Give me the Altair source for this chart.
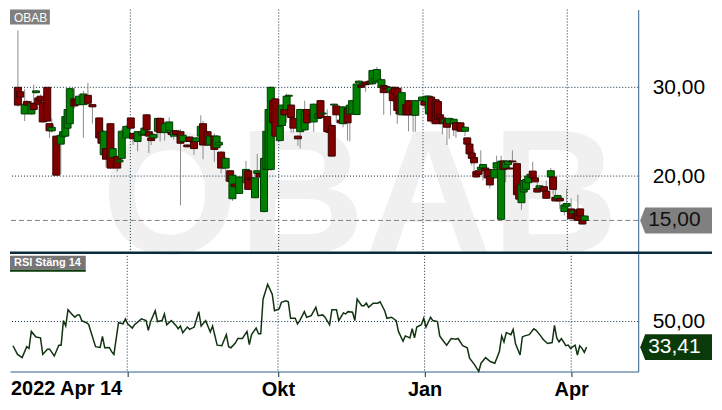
import altair as alt
import pandas as pd

ticker = "OBAB"
rsi_title = "RSI Stäng 14"
first_date_label = "2022 Apr 14"

# daily candles: trading-day number (0 = 2022-04-14), open, high, low, close
cd_day = [0, 1, 3, 4, 6, 7, 8, 9, 10, 11,
          13, 14, 15, 17, 19, 20, 21, 22, 23, 25,
          26, 27, 29, 31, 33, 36, 37, 38, 39, 41,
          42, 44, 45, 46, 48, 50, 51, 53, 55, 56,
          57, 58, 59, 60, 62, 63, 65, 67, 68, 69,
          70, 72, 73, 75, 76, 78, 79, 81, 82, 84,
          85, 87, 88, 89, 90, 92, 94, 95, 96, 98,
          101, 102, 103, 105, 106, 107, 109, 110, 111, 112,
          113, 114, 116, 117, 118, 119, 120, 121, 122, 124,
          125, 127, 128, 130, 131, 133, 134, 135, 137, 138,
          139, 140, 141, 143, 144, 146, 147, 148, 150, 151,
          152, 153, 154, 156, 157, 158, 159, 161, 162, 163,
          165, 166, 167, 168, 169, 170, 172, 173, 175, 176,
          179, 180, 181, 182, 183, 185, 186, 187, 188, 189,
          190, 191, 193, 194, 196, 198, 199, 200, 201, 202,
          203, 204, 205, 206, 207, 208, 209, 211, 212, 214,
          215, 216, 217, 218, 219, 221, 222, 223, 224, 225,
          226, 227, 228, 229, 230, 231, 233, 234, 236, 237,
          238, 239, 240, 242, 243, 245, 246, 247, 248, 249,
          250, 251]
cd_open = [30.0, 29.5, 27.0, 28.4, 27.0, 28.2, 29.4, 28.8, 29.0, 28.3,
           30.0, 25.9, 25.1, 24.5, 23.6, 24.5, 24.5, 25.4, 25.9, 28.7,
           28.6, 28.05, 28.05, 29.1, 28.05, 26.55, 24.9, 22.4, 23.1, 25.9,
           22.1, 22.2, 21.6, 22.0, 24.3, 26.55, 24.8, 23.9, 24.6, 24.7,
           26.9, 25.0, 24.3, 24.3, 25.05, 26.5, 24.9, 25.1, 24.9, 24.5,
           25.1, 25.0, 23.9, 23.5, 24.4, 23.9, 23.9, 24.5, 25.9, 25.0,
           23.5, 24.5, 23.2, 23.5, 22.7, 20.9, 20.6, 17.45, 19.1, 18.05,
           19.25, 20.6, 19.8, 17.56, 20.3, 20.3, 16.0, 20.75, 20.75, 20.75,
           28.5, 28.7, 24.0, 25.7, 27.5, 27.5, 29.0, 28.0, 26.5, 24.5,
           25.0, 25.2, 27.5, 26.9, 26.1, 26.5, 28.5, 27.0, 26.7, 25.1,
           25.7, 28.0, 27.9, 26.3, 25.9, 27.6, 27.0, 27.0, 26.93, 30.5,
           30.2, 30.3, 30.6, 30.7, 30.4, 30.6, 30.7, 30.0, 30.2, 30.1,
           29.4, 29.7, 30.0, 29.9, 29.0, 26.9, 28.05, 28.5, 27.9, 26.85,
           28.5, 28.4, 28.4, 27.0, 28.9, 28.6, 28.4, 26.9, 26.55, 26.0,
           26.25, 25.9, 25.9, 26.0, 26.0, 25.05, 24.3, 23.6, 22.6, 22.1,
           20.5, 20.6, 20.75, 20.9, 20.9, 20.75, 20.0, 19.8, 20.9, 15.13,
           21.7, 20.9, 21.3, 20.9, 21.7, 21.4, 18.9, 17.0, 18.2, 18.5,
           19.25, 19.9, 20.56, 19.8, 18.6, 18.6, 18.8, 18.3, 19.9, 19.9,
           17.6, 17.4, 17.5, 16.0, 16.6, 16.3, 15.8, 15.6, 16.2, 16.3,
           15.0, 15.0]
cd_high = [36.4, 29.7, 29.8, 28.6, 28.5, 30.3, 29.7, 29.0, 29.2, 28.5,
           30.0, 26.0, 26.5, 24.6, 24.8, 25.2, 26.8, 27.7, 30.1, 30.0,
           28.8, 29.2, 29.6, 30.5, 28.1, 26.6, 25.0, 25.2, 23.3, 26.0,
           23.3, 22.3, 21.9, 25.3, 25.8, 26.6, 24.9, 25.1, 25.1, 25.5,
           27.0, 25.1, 24.4, 24.8, 26.6, 26.6, 26.2, 26.6, 25.0, 25.2,
           25.2, 25.3, 24.7, 23.6, 24.5, 24.0, 24.4, 26.85, 26.2, 25.1,
           24.6, 24.8, 24.6, 23.9, 22.8, 22.1, 20.7, 20.5, 19.2, 20.0,
           21.7, 20.7, 19.9, 20.3, 22.5, 20.4, 22.2, 25.2, 27.6, 30.1,
           28.6, 28.8, 25.7, 28.1, 28.6, 29.3, 29.2, 28.1, 26.6, 24.6,
           27.6, 28.5, 27.6, 27.0, 28.2, 27.1, 28.6, 27.2, 27.5, 25.2,
           25.9, 28.2, 28.0, 26.4, 27.9, 27.7, 28.1, 28.6, 30.6, 30.8,
           30.3, 30.6, 30.7, 30.8, 32.0, 31.1, 32.3, 31.0, 30.3, 30.2,
           30.1, 29.8, 30.1, 30.0, 29.1, 30.0, 28.1, 28.6, 28.0, 28.6,
           29.0, 28.5, 29.1, 29.1, 29.0, 28.7, 28.5, 27.0, 26.6, 26.5,
           26.3, 26.6, 26.5, 26.1, 26.1, 25.6, 24.4, 24.0, 22.7, 23.0,
           20.6, 20.7, 22.9, 21.4, 21.0, 20.8, 20.1, 21.0, 22.3, 22.3,
           21.8, 21.7, 21.8, 21.0, 22.9, 21.6, 19.0, 19.1, 19.6, 19.7,
           20.1, 20.3, 21.6, 19.9, 19.3, 19.0, 18.9, 19.5, 20.9, 20.0,
           18.9, 17.9, 17.6, 17.0, 18.6, 17.5, 16.2, 15.7, 17.9, 16.4,
           15.1, 15.6]
cd_low = [27.8, 28.7, 26.2, 27.8, 26.9, 27.4, 29.3, 28.0, 28.4, 26.0,
          26.1, 24.3, 24.9, 20.1, 20.2, 24.4, 24.3, 25.2, 25.5, 27.6,
          27.9, 27.9, 24.3, 28.0, 25.9, 24.0, 23.5, 22.2, 21.0, 20.8,
          22.0, 20.5, 21.5, 21.8, 24.2, 25.2, 23.5, 22.8, 24.5, 24.6,
          25.0, 22.6, 23.5, 24.2, 24.3, 23.9, 24.0, 24.7, 24.3, 24.1,
          24.6, 16.7, 23.8, 23.2, 23.8, 22.4, 23.8, 24.0, 21.9, 23.4,
          23.4, 21.6, 23.1, 23.4, 20.3, 19.4, 18.4, 17.2, 18.7, 18.0,
          19.2, 18.4, 19.5, 17.5, 20.2, 19.8, 15.9, 20.6, 20.6, 20.6,
          23.1, 24.4, 23.9, 25.6, 26.8, 26.0, 28.9, 24.9, 24.9, 23.4,
          23.1, 25.1, 25.9, 26.7, 25.0, 26.4, 26.5, 26.9, 24.9, 24.8,
          22.2, 27.9, 26.0, 25.9, 25.5, 24.0, 23.9, 26.9, 26.9, 30.4,
          29.9, 30.2, 29.5, 30.3, 30.3, 30.5, 30.6, 29.9, 26.9, 29.7,
          26.85, 28.4, 29.1, 25.9, 26.9, 26.8, 26.8, 25.05, 25.0, 25.0,
          28.4, 27.6, 28.3, 26.9, 25.9, 25.8, 26.3, 25.8, 24.7, 25.9,
          23.5, 24.2, 24.5, 24.3, 25.0, 24.5, 23.5, 22.4, 21.2, 20.6,
          19.8, 20.1, 20.7, 19.5, 20.5, 19.2, 18.6, 19.7, 20.8, 15.1,
          18.7, 19.3, 21.2, 20.7, 21.5, 17.6, 17.3, 16.2, 18.1, 18.4,
          19.2, 19.8, 19.7, 19.3, 18.1, 18.5, 17.6, 17.4, 19.8, 17.9,
          17.1, 17.3, 16.3, 15.6, 16.5, 15.1, 15.1, 15.1, 15.0, 15.4,
          14.5, 14.9]
cd_close = [28.0, 28.9, 28.1, 28.0, 28.2, 27.5, 29.6, 28.1, 28.5, 26.1,
            26.2, 25.1, 25.5, 20.1, 24.6, 25.0, 26.7, 27.5, 29.85, 27.9,
            28.1, 29.0, 29.25, 28.2, 27.8, 24.3, 23.7, 25.05, 21.9, 20.9,
            23.1, 20.9, 21.8, 25.05, 25.6, 25.4, 24.2, 25.0, 25.0, 25.4,
            25.2, 24.5, 24.0, 24.7, 26.5, 24.9, 25.9, 26.1, 24.7, 25.1,
            24.7, 23.7, 24.6, 23.3, 23.9, 23.1, 24.3, 25.6, 23.5, 23.5,
            24.5, 23.0, 24.5, 23.8, 20.9, 22.0, 19.4, 20.1, 18.8, 19.9,
            20.75, 18.5, 19.6, 19.8, 20.6, 19.9, 22.0, 25.05, 27.5, 30.0,
            26.0, 24.5, 25.6, 28.0, 26.9, 29.0, 29.1, 26.6, 25.4, 24.2,
            27.5, 27.3, 26.0, 26.8, 28.1, 27.0, 26.6, 27.1, 25.0, 24.9,
            22.25, 28.1, 26.9, 26.0, 27.8, 26.0, 28.0, 28.5, 30.37, 30.7,
            30.0, 30.5, 30.3, 30.4, 31.9, 31.0, 32.0, 30.86, 29.4, 29.85,
            30.0, 28.5, 29.2, 27.4, 27.0, 29.4, 26.9, 26.9, 26.9, 28.5,
            28.9, 28.0, 29.0, 29.0, 26.2, 25.9, 26.4, 26.6, 25.9, 26.4,
            25.5, 26.5, 26.4, 25.2, 25.05, 25.5, 23.6, 22.5, 22.0, 21.5,
            19.9, 20.2, 21.0, 21.3, 20.6, 19.8, 19.0, 20.75, 21.5, 21.68,
            20.75, 21.6, 21.7, 20.8, 21.6, 17.9, 17.4, 19.06, 19.5, 19.6,
            20.0, 20.2, 19.8, 19.35, 18.2, 18.9, 18.3, 17.5, 20.6, 18.5,
            17.2, 17.8, 17.2, 16.74, 16.9, 15.2, 16.1, 15.2, 15.0, 15.5,
            14.6, 15.5]

# RSI (close, 14)
rsi_day = [0, 2, 4, 6, 7, 8, 10, 12, 13, 15,
           16, 18, 20, 21, 22, 23, 24, 26, 27, 28,
           29, 30, 32, 33, 34, 36, 38, 39, 40, 42,
           43, 44, 46, 48, 49, 50, 52, 53, 56, 58,
           59, 60, 62, 63, 65, 66, 67, 69, 71, 72,
           73, 74, 76, 77, 79, 81, 82, 84, 86, 87,
           89, 91, 93, 94, 95, 97, 98, 100, 102, 103,
           104, 106, 107, 108, 109, 111, 113, 114, 116, 117,
           119, 120, 121, 123, 124, 125, 127, 128, 130, 132,
           133, 135,
           136, 138, 139, 141, 142, 144, 145, 146, 148, 149,
           150, 152, 153, 154, 155, 157, 159, 160, 162, 163,
           165, 167, 168, 170, 171, 173, 174, 175, 176, 178,
           179, 180, 182, 183, 185, 186, 187, 189, 191, 193,
           194, 196, 198, 199, 201, 203, 204, 206, 208, 210,
           212, 213, 214, 215, 217, 218, 219, 221, 222, 223,
           225, 227, 228, 230, 231, 233, 235, 236, 237, 238,
           239, 241, 242, 243, 245, 246, 247, 248, 249, 250]
rsi_val = [34.3, 28.7, 26.6, 33.7, 32.6, 43.6, 40.0, 39.4, 28.7, 32.1,
           32.1, 27.7, 34.7, 34.7, 50.6, 47.1, 57.7, 54.3, 52.8, 54.3,
           54.3, 50.6, 49.2, 48.1, 43.2, 33.7, 33.2, 40.4, 33.0, 33.2,
           30.5, 28.7, 49.2, 48.5, 51.7, 48.5, 45.8, 47.9, 51.7, 50.6,
           44.3, 50.0, 57.0, 50.0, 50.6, 54.9, 47.9, 50.6, 47.5, 45.3,
           47.1, 42.8, 46.4, 44.9, 46.4, 56.4, 47.1, 50.6, 43.2, 47.1,
           34.7, 34.3, 41.5, 33.7, 33.0, 36.2, 39.0, 39.0, 43.6, 35.1,
           41.5, 45.8, 42.1, 42.1, 64.5, 74.1, 67.7, 57.0, 58.1, 62.4,
           63.4, 62.8, 52.1, 52.1, 48.5, 50.6, 56.4, 52.8, 53.8, 59.2,
           53.8, 54.3,
           52.8, 47.9, 57.7, 57.7, 50.6, 55.6, 54.9, 56.4, 56.0, 50.6,
           64.5, 60.2, 60.2, 61.9, 59.2, 61.9, 61.9, 62.8, 57.0, 52.1,
           52.8, 50.6, 43.6, 37.2, 40.7, 39.4, 45.3, 39.4, 46.4, 47.9,
           52.1, 46.4, 52.8, 50.6, 50.0, 40.7, 38.5, 34.7, 39.0, 38.5,
           39.0, 34.3, 33.0, 26.2, 22.4, 17.7, 23.0, 26.6, 24.1, 23.0,
           30.5, 40.7, 36.8, 42.8, 41.5, 44.9, 35.8, 28.3, 40.0, 40.7,
           41.5, 45.3, 44.3, 40.7, 38.5, 35.8, 36.4, 47.5, 39.4, 36.8,
           39.0, 34.3, 34.7, 32.6, 34.7, 28.3, 34.3, 32.6, 30.0, 33.41]

# month boundaries (trading-day number) and their labels
month_pos = [49.8, 115.5, 179.4, 243.3]
month_shown = ["", "Okt", "Jan", "Apr"]
price_ticks = [20, 30]
rsi_ticks = [50]
last_price = [15.00]
last_rsi = [33.41]

W = 630
H_MAIN = 244
H_RSI = 119
LABEL_PAD = 3
FONT = "Liberation Sans"
GRID = "#0d2b3e"
BORDER = "#2f5d8c"
UP_FILL, UP_LINE = "#008000", "#003a00"
DN_FILL, DN_LINE = "#800000", "#3a0000"
ARROW = "M-1,0L-0.861,-0.361L1,-0.361L1,0.361L-0.861,0.361Z"


def comma(v):
    return f"{v:.2f}".replace(".", ",")


candles = pd.DataFrame({"day": cd_day, "open": cd_open, "high": cd_high,
                        "low": cd_low, "close": cd_close})
rsi = pd.DataFrame({"day": rsi_day, "rsi": rsi_val})

x_scale = alt.Scale(domain=[-1.29, 272.5], nice=False, zero=False)
p_scale = alt.Scale(domain=[11.348, 38.764], nice=False, zero=False)
r_scale = alt.Scale(domain=[17.6, 94.5], nice=False, zero=False)

val_expr = "replace(format(datum.value, '.2f'), '.', ',')"
month_expr = "''"
for p, n in reversed(list(zip(month_pos, month_shown))):
    month_expr = f"datum.value === {p} ? '{n}' : ({month_expr})"

p_axis = alt.Axis(orient="right", values=price_ticks, labelExpr=val_expr,
                  grid=False, ticks=False, labelPadding=14, labelFont=FONT,
                  labelFontSize=21, labelColor="#000000", domainColor=BORDER,
                  domainWidth=1, title=None)
r_axis = alt.Axis(orient="right", values=rsi_ticks, labelExpr=val_expr,
                  grid=False, ticks=False, labelPadding=14, labelFont=FONT,
                  labelFontSize=21, labelColor="#000000", domainColor=BORDER,
                  domainWidth=1, title=None)
x_axis = alt.Axis(values=month_pos, labelExpr=month_expr, grid=False,
                  tickSize=5, tickColor=GRID, domainColor=BORDER,
                  labelFont=FONT, labelFontSize=20, labelFontWeight="bold",
                  labelColor="#000000", labelPadding=LABEL_PAD,
                  labelOverlap=False, labelFlush=False, title=None)

one = pd.DataFrame({"t": [ticker]})

# ---------- price panel ----------
wm = alt.Chart(one).mark_text(font=FONT, fontSize=176, fontWeight="bold",
                              color="#f0f0f0", align="left",
                              baseline="alphabetic").encode(
    x=alt.value(92), y=alt.value(H_MAIN), text="t:N")
hgrid = alt.Chart(pd.DataFrame({"v": price_ticks})).mark_rule(
    color=GRID, strokeDash=[1, 2], strokeWidth=1).encode(
    y=alt.Y("v:Q", scale=p_scale, axis=p_axis))
vgrid = alt.Chart(pd.DataFrame({"d": month_pos})).mark_rule(
    color=GRID, strokeDash=[1, 2], strokeWidth=1).encode(
    x=alt.X("d:Q", scale=x_scale, axis=None))
lastline = alt.Chart(pd.DataFrame({"v": last_price})).mark_rule(
    color="#808080", strokeDash=[5, 3], strokeWidth=1).encode(
    y=alt.Y("v:Q", scale=p_scale, axis=p_axis))
wicks = alt.Chart(candles).mark_rule(color="#8c8c8c", strokeWidth=1).encode(
    x=alt.X("day:Q", scale=x_scale, axis=None),
    y=alt.Y("low:Q", scale=p_scale, axis=p_axis), y2="high:Q")
up = "datum.close >= datum.open"
bodies = alt.Chart(candles).mark_bar(width=7, strokeWidth=1).encode(
    x=alt.X("day:Q", scale=x_scale, axis=None),
    y=alt.Y("open:Q", scale=p_scale, axis=p_axis), y2="close:Q",
    fill=alt.condition(up, alt.value(UP_FILL), alt.value(DN_FILL)),
    stroke=alt.condition(up, alt.value(UP_LINE), alt.value(DN_LINE)))
thick = alt.Chart(one).mark_rule(color="#0c2a3d", strokeWidth=2.5).encode(
    x=alt.value(0), x2=alt.value(704), y=alt.value(H_MAIN))
lp = pd.DataFrame({"v": last_price, "t": [comma(v) for v in last_price]})
pbox = alt.Chart(lp).mark_point(shape=ARROW, size=5184, filled=True,
                                opacity=1, strokeWidth=0,
                                color="#808080").encode(
    x=alt.value(668), y=alt.Y("v:Q", scale=p_scale, axis=p_axis))
ptext = alt.Chart(lp).mark_text(align="left", baseline="middle", font=FONT,
                                fontSize=21, color="#111111").encode(
    x=alt.value(640), y=alt.Y("v:Q", scale=p_scale, axis=p_axis), text="t:N")
tbox = alt.Chart(one).mark_rect(color="#808080").encode(
    x=alt.value(0), x2=alt.value(40), y=alt.value(0), y2=alt.value(15))
ttext = alt.Chart(one).mark_text(align="left", baseline="middle", font=FONT,
                                 fontSize=12, color="#ffffff").encode(
    x=alt.value(4), y=alt.value(8), text="t:N")

main = alt.layer(wm, hgrid, vgrid, lastline, wicks, bodies, thick,
                 pbox, ptext, tbox, ttext).properties(width=W, height=H_MAIN)

# ---------- RSI panel ----------
rh = alt.Chart(pd.DataFrame({"v": rsi_ticks})).mark_rule(
    color=GRID, strokeDash=[1, 2], strokeWidth=1).encode(
    y=alt.Y("v:Q", scale=r_scale, axis=r_axis))
rv = alt.Chart(pd.DataFrame({"d": month_pos})).mark_rule(
    color=GRID, strokeDash=[1, 2], strokeWidth=1).encode(
    x=alt.X("d:Q", scale=x_scale, axis=x_axis))
rline = alt.Chart(rsi).mark_line(color="#123312", strokeWidth=1.5).encode(
    x=alt.X("day:Q", scale=x_scale, axis=x_axis),
    y=alt.Y("rsi:Q", scale=r_scale, axis=r_axis))
lr = pd.DataFrame({"v": last_rsi, "t": [comma(v) for v in last_rsi]})
rbox = alt.Chart(lr).mark_point(shape=ARROW, size=5184, filled=True,
                                opacity=1, strokeWidth=0,
                                color="#0a3a0a").encode(
    x=alt.value(668), y=alt.Y("v:Q", scale=r_scale, axis=r_axis))
rtext = alt.Chart(lr).mark_text(align="left", baseline="middle", font=FONT,
                                fontSize=21, color="#ffffff").encode(
    x=alt.value(640), y=alt.Y("v:Q", scale=r_scale, axis=r_axis), text="t:N")
one_r = pd.DataFrame({"t": [rsi_title]})
rtbox = alt.Chart(one_r).mark_rect(color="#767676").encode(
    x=alt.value(0), x2=alt.value(76), y=alt.value(3), y2=alt.value(17))
rtline = alt.Chart(one_r).mark_rect(color="#0a3a0a").encode(
    x=alt.value(0), x2=alt.value(76), y=alt.value(17), y2=alt.value(19))
rttext = alt.Chart(one_r).mark_text(align="left", baseline="middle", font=FONT,
                                    fontSize=11, fontWeight="bold",
                                    color="#ffffff").encode(
    x=alt.value(4), y=alt.value(10.5), text="t:N")
first = alt.Chart(pd.DataFrame({"day": [cd_day[0]], "t": [first_date_label]})).mark_text(
    align="left", baseline="top", font=FONT, fontSize=20, fontWeight="bold",
    color="#000000", dx=-2).encode(
    x=alt.X("day:Q", scale=x_scale, axis=x_axis),
    y=alt.value(H_RSI + 5 + LABEL_PAD), text="t:N")

lower = alt.layer(rh, rv, rline, rbox, rtext, rtbox, rtline, rttext,
                  first).properties(width=W, height=H_RSI)

chart = alt.vconcat(main, lower, spacing=0, bounds="flush").configure_view(
    strokeWidth=0).properties(padding=0)

chart.save("out.html", embed_options={"renderer": "svg", "actions": False})
